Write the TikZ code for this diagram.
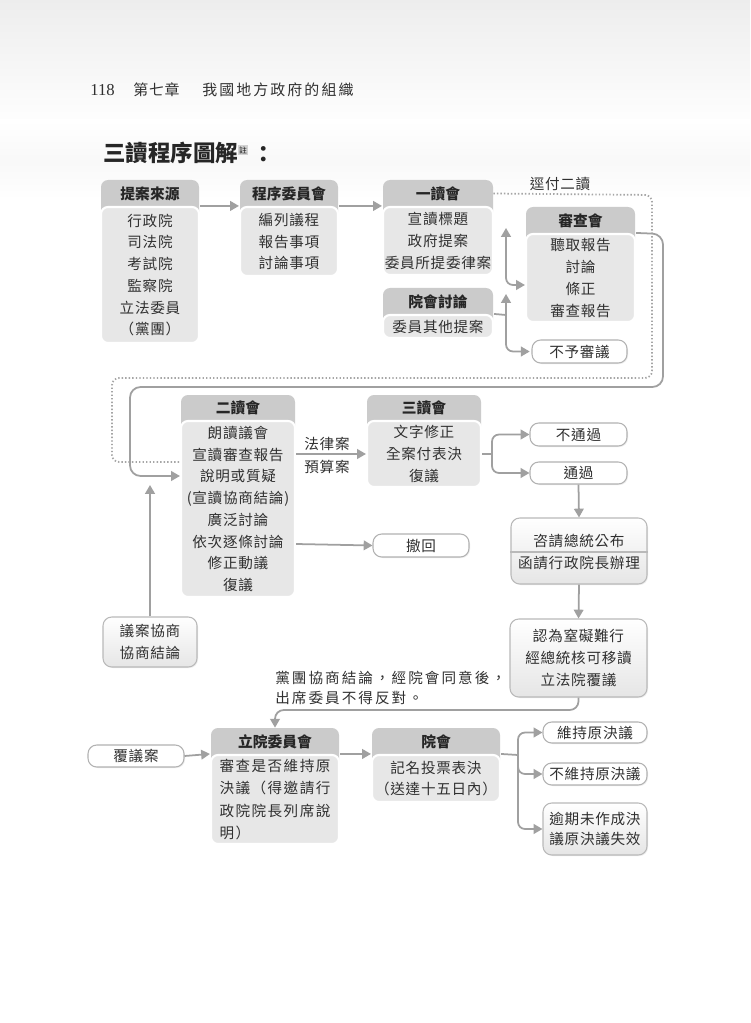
\documentclass[tikz,border=0pt]{standalone}
\usepackage{fontspec}
\setmainfont{Noto Sans CJK TC}
\newfontfamily\cjk[LetterSpace=5]{Noto Sans CJK TC}
\newfontfamily\cjkm[LetterSpace=10]{Noto Sans CJK TC}
\newfontfamily\cjkw[LetterSpace=14]{Noto Sans CJK TC}
\newfontfamily\numfont{Liberation Serif}
\usetikzlibrary{arrows.meta,fit,shadows}
\definecolor{hdr}{HTML}{CBCBCB}
\definecolor{bodyc}{HTML}{E7E7E7}
\definecolor{arr}{HTML}{A0A0A0}
\definecolor{txt}{HTML}{303030}
\tikzset{
  bodyfont/.style={font=\cjk\fontsize{8.3}{12.4}\selectfont, text=txt},
  hdrbox/.style={inner sep=0},
  hdrtext/.style={inner sep=0, font=\bfseries\fontsize{8.4}{10}\selectfont, text=black!85},
  bodybox/.style={inner sep=0, fill=bodyc, draw=white, line width=1.2pt, rounded corners=4pt},
  btext/.style={inner sep=0, align=center, bodyfont},
  pill/.style={inner sep=0, fill=white, draw=gray!60, line width=0.6pt, rounded corners=5pt,
    drop shadow={opacity=0.15, shadow xshift=0.6pt, shadow yshift=-0.6pt}},
  gbox/.style={inner sep=0, top color=white, bottom color=gray!20, draw=gray!55, line width=0.6pt, rounded corners=5pt,
    drop shadow={opacity=0.15, shadow xshift=0.6pt, shadow yshift=-0.6pt}},
  conn/.style={draw=arr, line width=1pt, -{Triangle[length=5pt,width=5.5pt]}},
  plainline/.style={draw=arr, line width=1pt},
  dotline/.style={draw=gray!70, line width=1pt, dash pattern=on 0.8pt off 1.2pt},
  lbl/.style={inner sep=0, bodyfont},
}
% name, x1, y1, x2, ysplit, y2, title, body
\newcommand\stagebox[8]{%
  \fill[hdr, rounded corners=4pt] (#2,#3) rectangle (#4,#5+12);
  \node[fit={(#2,#3)(#4,#5)}, hdrbox] (#1-h) {};
  \node[hdrtext] (#1-ht) at (#1-h.center) {#7};
  \node[fit={(#2,#5)(#4,#6)}, bodybox] (#1) {};
  \node[btext] (#1-t) at (#1.center) {#8};
}
% name, x1, y1, x2, y2, style, text
\newcommand\textbox[7]{%
  \node[fit={(#2,#3)(#4,#5)}, #6] (#1) {};
  \node[btext] (#1-t) at (#1.center) {#7};
}
\begin{document}
\begin{tikzpicture}[x=0.02cm,y=-0.02cm]
\useasboundingbox (0,0) rectangle (750,1023);
\fill[white] (0,0) rectangle (750,1023);
\shade[top color=gray!14, bottom color=white] (0,0) rectangle (750,130);
\shade[top color=white, bottom color=white, middle color=gray!5] (0,120) rectangle (750,200);

% page header
\node[anchor=west, inner sep=0, font=\numfont\fontsize{9.5}{10}\selectfont, text=txt] (pgnum) at (90,90) {118};
\node[anchor=west, inner sep=0, font=\cjk\fontsize{8.5}{10}\selectfont, text=txt] (chap) at (133,90) {第七章};
\node[anchor=west, inner sep=0, font=\cjkw\fontsize{8.5}{10}\selectfont, text=txt] (chapt) at (202,90) {我國地方政府的組織};

% title
\node[anchor=west, inner sep=0, font=\bfseries\fontsize{12.8}{14}\selectfont, text=black!85] (title) at (103,153) {三讀程序圖解};
\node[inner sep=0.6pt, fill=gray!35, text=gray!20!black, font=\fontsize{4.5}{5}\selectfont] (note) at (243,150) {註};
\node[inner sep=0, font=\bfseries\fontsize{12.8}{14}\selectfont, text=black!85] (colon) at (264,155) {：};

% top row
\stagebox{src}{101}{180}{199}{207}{343}{提案來源}{行政院\\司法院\\考試院\\監察院\\立法委員\\（黨團）}
\stagebox{prog}{240}{180}{338}{207}{276}{程序委員會}{編列議程\\報告事項\\討論事項}
\stagebox{first}{383}{180}{493}{207}{275}{一讀會}{宣讀標題\\政府提案\\委員所提委律案}
\stagebox{plen1}{383}{288}{493}{315}{338}{院會討論}{委員其他提案}
\stagebox{review}{526}{207}{635}{234}{322}{審查會}{聽取報告\\討論\\條正\\審查報告}
\textbox{reject}{532}{340}{627}{363}{pill}{不予審議}

\draw[conn] (src.north east) -- (prog.north west);
\draw[conn] (prog.north east) -- (first.north west);

\coordinate (up1) at (506,228);
\coordinate (up2) at (506,294);
\coordinate (j1) at (506,315);
\draw[conn, {Triangle[length=5pt,width=5.5pt]}-{Triangle[length=5pt,width=5.5pt]}, rounded corners=4pt] (up1) |- (review.west |- 0,285);
\draw[plainline] (plen1.north east) -- (j1);
\draw[conn] (j1) -- (up2);
\draw[conn, rounded corners=4pt, shorten >=1pt] (j1) |- (reject.west);

% second row
\stagebox{second}{181}{395}{295}{421}{597}{二讀會}{朗讀議會\\宣讀審查報告\\說明或質疑\\(宣讀協商結論)\\廣泛討論\\依次逐條討論\\修正動議\\復議}
\stagebox{third}{367}{395}{481}{421}{487}{三讀會}{文字修正\\全案付表決\\復議}

% 逕付二讀 dotted loop
\draw[dotline, rounded corners=4pt] (first-h.east) -- (652,195) -- (652,378) -- (112,378) -- (112,462) -- (second.west |- 0,462);
\node[lbl] (direct) at (560,184) {逕付二讀};

% 審查會 -> 二讀會 loop
\draw[conn, rounded corners=6pt] (review.north east) -- (663,234) -- (663,387) -- (130,387) -- (130,476) -- (second.west |- 0,476);

\draw[conn] (second.east |- 0,454) -- (third.west |- 0,454);
\node[lbl] (law) at (327,444) {法律案};
\node[lbl] (budget) at (327,467) {預算案};

\textbox{fail}{530}{423}{627}{446}{pill}{不通過}
\textbox{pass}{530}{462}{627}{484}{pill}{通過}
\coordinate (j2) at (492,454);
\draw[plainline] (third.east |- 0,454) -- (j2);
\draw[conn, rounded corners=4pt] (j2) |- (fail.west);
\draw[conn, rounded corners=4pt] (j2) |- (pass.west);

\textbox{withdraw}{373}{534}{469}{557}{pill}{撤回}
\draw[conn] (second.east |- 0,544) -- (withdraw.west);

\node[fit={(511,518)(647,584)}, gbox] (promul) {};
\node[btext, anchor=center] (promul-a) at (promul.center |- 0,541) {咨請總統公布};
\node[btext, anchor=center] (promul-b) at (promul.center |- 0,563) {函請行政院長辦理};
\draw[gray!55, line width=0.6pt] (promul.west |- 0,552) -- (promul.east |- 0,552);
\draw[conn] (pass.south) -- (promul.north);

\node[fit={(510,619)(647,697)}, gbox] (veto) {};
\node[btext, font=\cjk\fontsize{8.3}{12.6}\selectfont] (veto-t) at (veto.center) {認為窒礙難行\\經總統核可移讀\\立法院覆議};
\draw[conn] (promul.south) -- (veto.north);

\node[fit={(103,617)(197,667)}, gbox] (nego) {};
\node[btext, font=\cjk\fontsize{8.3}{12.8}\selectfont] (nego-t) at (nego.center) {議案協商\\協商結論};
\coordinate (negotip) at (150,485);
\draw[conn] (nego.north) -- (negotip);

\node[anchor=west, inner sep=0, align=left, font=\cjkw\fontsize{8.3}{11.2}\selectfont, text=txt] (partynote) at (275,688) {黨團協商結論，經院會同意後，\\出席委員不得反對。};

% bottom row
\stagebox{committee}{211}{728}{339}{755}{844}{立院委員會}{}
\node[inner sep=0, align=left, font=\cjkm\fontsize{8.3}{12.6}\selectfont, text=txt] (committee-b) at (committee.center) {審查是否維持原\\決議（得邀請行\\政院院長列席說\\明）};
\stagebox{plen2}{372}{728}{500}{755}{802}{院會}{記名投票表決\\（送達十五日內）}
\textbox{recon}{88}{745}{184}{767}{pill}{覆議案}

\draw[conn, rounded corners=5pt] (veto.south) -- (veto.south |- 0,710) -| (committee-h.north);
\draw[conn] (recon.east) -- (committee.north west);
\draw[conn] (committee.north east) -- (plen2.north west);

\textbox{keep}{543}{722}{647}{743}{pill}{維持原決議}
\textbox{nokeep}{543}{763}{647}{785}{pill}{不維持原決議}
\node[fit={(543,803)(647,855)}, gbox] (expire) {};
\node[btext, font=\cjk\fontsize{8.3}{11.5}\selectfont] (expire-t) at (expire.center) {逾期未作成決\\議原決議失效};
\coordinate (j3) at (518,755);
\draw[plainline] (plen2.north east) -- (j3);
\draw[conn, rounded corners=4pt] (j3) |- (keep.west);
\draw[conn, rounded corners=4pt] (j3) |- (nokeep.west);
\draw[conn, rounded corners=4pt] (j3) |- (expire.west);
\end{tikzpicture}
\end{document}
